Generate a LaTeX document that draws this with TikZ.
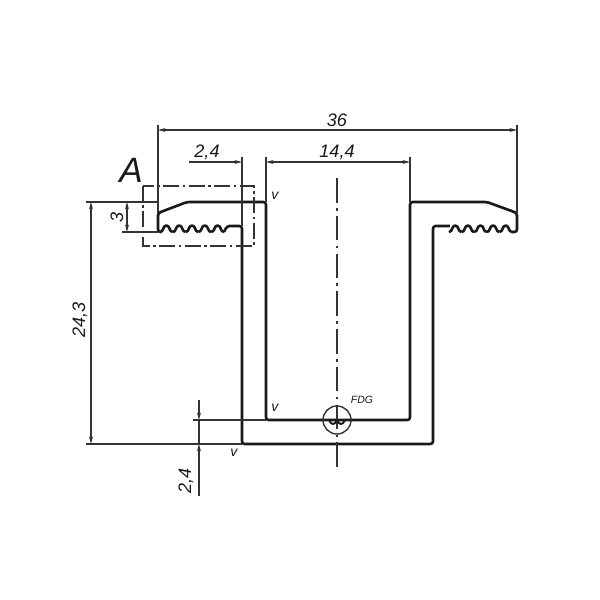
\documentclass[tikz,border=0pt]{standalone}
\usepackage{fontspec}
\setmainfont{Liberation Sans}
\usetikzlibrary{arrows.meta}
\tikzset{
    profile/.style={line width=1.5pt, line join=round, black!90},
    thinline/.style={line width=0.6pt, black!80},
    dimarrow/.style={thinline, -{Stealth[length=1.5mm,width=0.8mm]}},
    dimboth/.style={thinline, {Stealth[length=1.5mm,width=0.8mm]}-{Stealth[length=1.5mm,width=0.8mm]}},
    axisline/.style={thinline, dash pattern=on 14pt off 3pt on 1.5pt off 3pt},
    dimtext/.style={font=\itshape\fontsize{10.3}{10.3}\selectfont, black!90},
    weldtext/.style={font=\itshape\fontsize{8}{8}\selectfont, black!90}
}
\newcommand{\wave}[3]{% start x, period, bottom y
    \draw[profile] (#1,#3) .. controls (#1+0.3*#2,#3) and (#1+0.2*#2,#3-6.5) .. (#1+0.5*#2,#3-6.5)
        .. controls (#1+0.8*#2,#3-6.5) and (#1+0.7*#2,#3) .. (#1+#2,#3);
}
\begin{document}
\begin{tikzpicture}[x=0.02cm,y=-0.02cm]
    \useasboundingbox (0,0) rectangle (600,600);

    % Draw profile outline
    \draw[profile, rounded corners=1.5pt] (160,232) -- (158,232) -- (158,213) -- (187,202) -- (266,202) -- (266,420)
        -- (410,420) -- (410,202) -- (487,202) -- (517,213) -- (517,232) -- (512,232);
    \draw[profile, rounded corners=1.5pt] (224,232) -- (227,226) -- (242,226) -- (242,444) -- (433,444)
        -- (433,226) -- (450,226);

    % Draw teeth
    \foreach \x in {160,172.8,185.6,198.4,211.2} {
        \wave{\x}{12.8}{232}
    }
    \foreach \x in {449,461.6,474.2,486.8,499.4} {
        \wave{\x}{12.6}{232}
    }

    % Draw extension lines
    \draw[thinline] (158,125) -- (158,213);
    \draw[thinline] (517,125) -- (517,213);
    \draw[thinline] (242,157) -- (242,226);
    \draw[thinline] (266,157) -- (266,202);
    \draw[thinline] (410,157) -- (410,202);
    \draw[thinline] (86,202) -- (158,202);
    \draw[thinline] (122,232) -- (158,232);
    \draw[thinline] (86,444) -- (242,444);
    \draw[thinline] (193,420) -- (266,420);
    \draw[thinline] (199,420) -- (199,444);

    % Draw dimension lines
    \draw[dimboth] (158,130) -- (517,130);
    \draw[dimarrow] (189,162) -- (242,162);
    \draw[dimboth] (266,162) -- (410,162);
    \draw[dimboth] (127,202) -- (127,232);
    \draw[dimboth] (91,202) -- (91,444);
    \draw[dimarrow] (199,400) -- (199,420);
    \draw[dimarrow] (199,496) -- (199,444);

    % Add dimension values
    \node[dimtext] (dimwidth) at (337,120) {36};
    \node[dimtext] (dimgap) at (207,152) {2,4};
    \node[dimtext] (dimopen) at (337,152) {14,4};
    \node[dimtext, rotate=90] (dimthree) at (117,217) {3};
    \node[dimtext, rotate=90] (dimheight) at (80,320) {24,3};
    \node[dimtext, rotate=90] (dimfloor) at (186,481) {2,4};

    % Draw detail frame and centre line
    \draw[thinline, dash pattern=on 9pt off 2pt on 1.5pt off 2pt] (143,186) rectangle (254,246);
    \node[font=\itshape\fontsize{20}{20}\selectfont, black!90] (detail) at (131,170) {A};
    \draw[axisline] (337,178) -- (337,470);

    % Draw weld detail
    \draw[thinline, line width=0.8pt] (337,420) circle (14);
    \foreach \x in {329,337} {
        \draw[profile, line width=1.1pt] (\x,420) .. controls (\x+1,423) and (\x+3,424) .. (\x+4,424)
            .. controls (\x+5,424) and (\x+7,423) .. (\x+8,420);
    }

    % Add weld labels
    \node[weldtext] (weldtop) at (275,196) {v};
    \node[weldtext] (weldin) at (275,408) {v};
    \node[weldtext] (weldout) at (234,453) {v};
    \node[weldtext, font=\itshape\fontsize{6}{6}\selectfont] (weldname) at (362,400) {FDG};
\end{tikzpicture}
\end{document}
